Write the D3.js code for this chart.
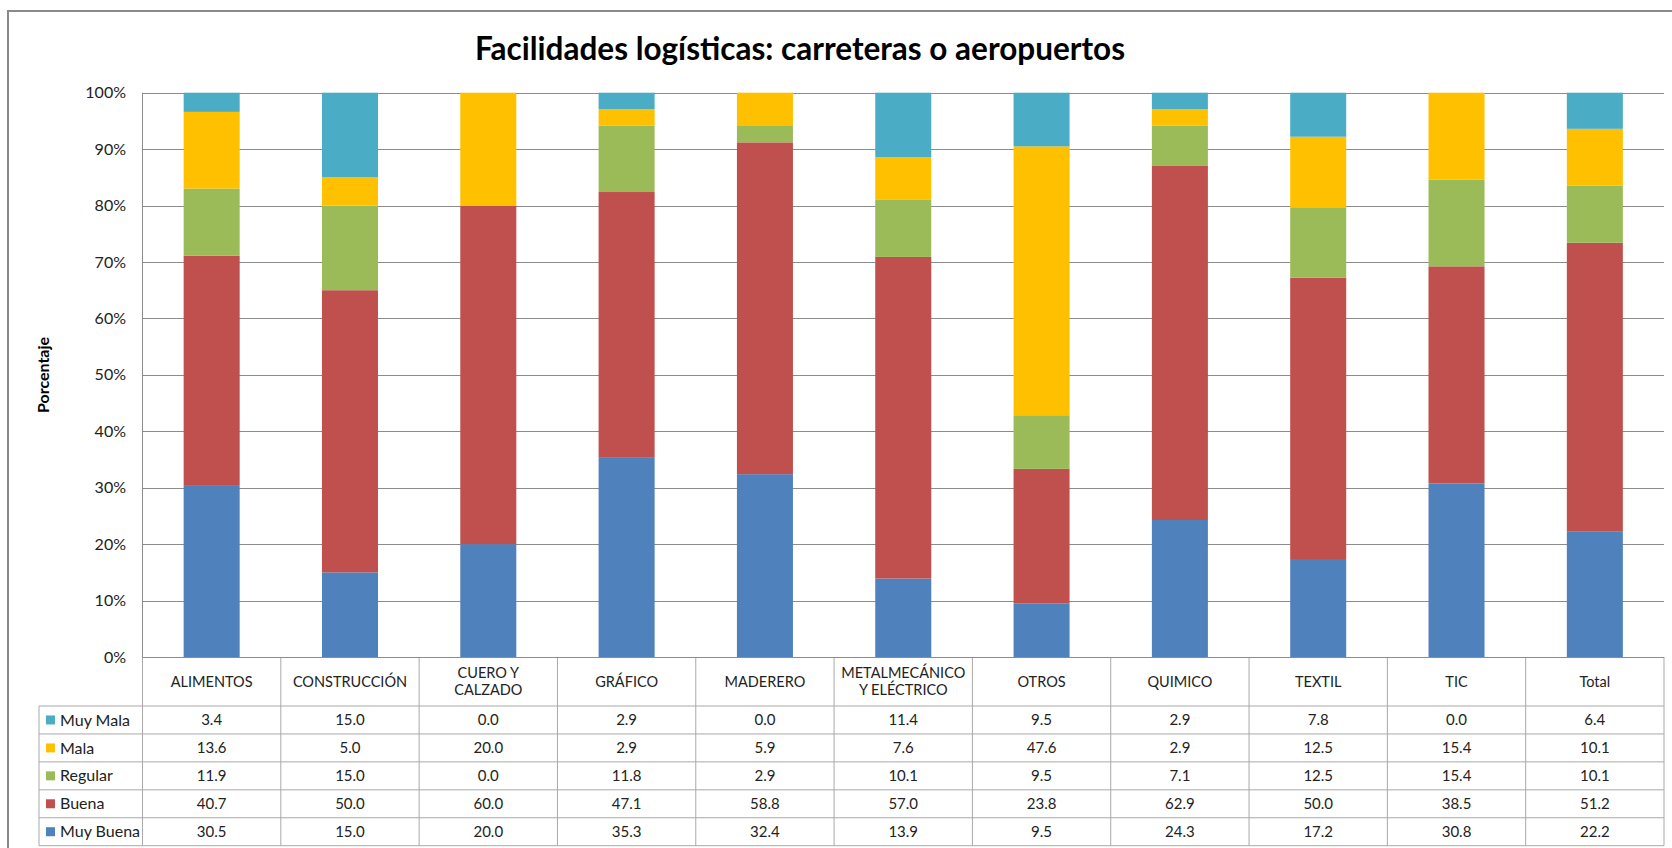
<!DOCTYPE html>
<html><head><meta charset="utf-8">
<script src="https://cdn.jsdelivr.net/npm/d3@7"></script>
<style>body{margin:0;background:#fff}svg{display:block}text{font-family:Lato,"Open Sans",sans-serif}</style>
</head><body><svg id="c" width="1672" height="848"></svg>
<script>
const categories = [["ALIMENTOS"],["CONSTRUCCIÓN"],["CUERO Y","CALZADO"],["GRÁFICO"],["MADERERO"],["METALMECÁNICO","Y ELÉCTRICO"],["OTROS"],["QUIMICO"],["TEXTIL"],["TIC"],["Total"]];
const seriesNames = ["Muy Buena","Buena","Regular","Mala","Muy Mala"];
const muyBuena = [30.5,15.0,20.0,35.3,32.4,13.9,9.5,24.3,17.2,30.8,22.2];
const buena    = [40.7,50.0,60.0,47.1,58.8,57.0,23.8,62.9,50.0,38.5,51.2];
const regular  = [11.9,15.0,0.0,11.8,2.9,10.1,9.5,7.1,12.5,15.4,10.1];
const mala     = [13.6,5.0,20.0,2.9,5.9,7.6,47.6,2.9,12.5,15.4,10.1];
const muyMala  = [3.4,15.0,0.0,2.9,0.0,11.4,9.5,2.9,7.8,0.0,6.4];
const colors = ["#4F81BD","#C0504D","#9BBB59","#FFC000","#4BACC6"];
const yTicks = [0,0.1,0.2,0.3,0.4,0.5,0.6,0.7,0.8,0.9,1.0];
const title = "Facilidades logísticas: carreteras o aeropuertos";
const yTitle = "Porcentaje";

const seriesVals = [muyBuena,buena,regular,mala,muyMala];
const svg = d3.select("#c");
const L=142.5, R=1664, T=92.7, B=657;
const tableTop=706, rowH=27.94, legL=39;
const gridC="#8c8c8c", tblC="#a9a9a9";

const keys = categories.map((c,i)=>"c"+i);
const x = d3.scaleBand().domain(keys).range([L,R]).padding(0);
const y = d3.scaleLinear().domain([0,1]).range([B,T]);
const bw = x.bandwidth()*0.405;

// outer border
svg.append("rect").attr("x",8).attr("y",11).attr("width",1800).attr("height",1000)
  .attr("fill","none").attr("stroke","#8a8a8a").attr("stroke-width",2);

// title
svg.append("text").attr("x",800).attr("y",60).attr("text-anchor","middle")
  .attr("font-size",31.5).attr("font-weight","bold").attr("fill","#000").text(title);

// gridlines
svg.append("g").selectAll("line").data(yTicks).join("line")
  .attr("x1",L).attr("x2",R).attr("y1",d=>Math.round(y(d))+0.5).attr("y2",d=>Math.round(y(d))+0.5)
  .attr("stroke",gridC).attr("stroke-width",1);
// y axis line
svg.append("line").attr("x1",L).attr("x2",L).attr("y1",T).attr("y2",B).attr("stroke",gridC);

// y tick labels
svg.append("g").selectAll("text").data(yTicks).join("text")
  .attr("x",126).attr("y",d=>y(d)).attr("dy","0.35em").attr("text-anchor","end")
  .attr("font-size",16).attr("fill","#222").text(d=>Math.round(d*100)+"%");

// y title
svg.append("text").attr("transform","translate(49,375) rotate(-90)").attr("text-anchor","middle")
  .attr("font-size",16).attr("font-weight","bold").attr("fill","#000").text(yTitle);

// stacked normalized
const rows = keys.map((k,i)=>{const o={key:k}; seriesNames.forEach((s,j)=>o[s]=seriesVals[j][i]); return o;});
const stack = d3.stack().keys(seriesNames).offset(d3.stackOffsetExpand);
const st = stack(rows);
svg.append("g").selectAll("g").data(st).join("g").attr("fill",(d,i)=>colors[i])
  .selectAll("rect").data(d=>d).join("rect")
  .attr("x",d=>x(d.data.key)+(x.bandwidth()-bw)/2).attr("width",bw)
  .attr("y",d=>y(d[1])).attr("height",d=>Math.max(0,y(d[0])-y(d[1])));

// table lines
const tg = svg.append("g");
const tableBottom = tableTop+rowH*5;
keys.forEach(k=>{
  tg.append("line").attr("x1",x(k)).attr("x2",x(k)).attr("y1",B).attr("y2",tableBottom).attr("stroke",tblC);
});
tg.append("line").attr("x1",R).attr("x2",R).attr("y1",B).attr("y2",tableBottom).attr("stroke",tblC);
tg.append("line").attr("x1",legL).attr("x2",legL).attr("y1",tableTop).attr("y2",tableBottom).attr("stroke",tblC);
for(let r=0;r<=5;r++){
  tg.append("line").attr("x1",legL).attr("x2",R).attr("y1",tableTop+r*rowH).attr("y2",tableTop+r*rowH).attr("stroke",tblC);
}
// bottom axis line above header
svg.append("line").attr("x1",L).attr("x2",R).attr("y1",B+0.5).attr("y2",B+0.5).attr("stroke",gridC);

// header labels
const hc = (B+tableTop)/2;
categories.forEach((c,i)=>{
  const t = svg.append("text").attr("text-anchor","middle").attr("font-size",14.5).attr("fill","#222");
  const cx = x(keys[i])+x.bandwidth()/2;
  c.forEach((ln,j)=>{
    const off = (j-(c.length-1)/2)*17;
    t.append("tspan").attr("x",cx).attr("y",hc+off).attr("dy","0.35em").text(ln);
  });
});

// table rows: top to bottom Muy Mala..Muy Buena
const order = [4,3,2,1,0];
order.forEach((si,r)=>{
  const cy = tableTop+r*rowH+rowH/2;
  svg.append("rect").attr("x",46).attr("y",cy-4.5).attr("width",9).attr("height",9).attr("fill",colors[si]);
  svg.append("text").attr("x",60).attr("y",cy).attr("dy","0.35em").attr("font-size",16).attr("fill","#222").text(seriesNames[si]);
  svg.append("g").selectAll("text").data(seriesVals[si]).join("text")
    .attr("x",(d,i)=>x(keys[i])+x.bandwidth()/2).attr("y",cy).attr("dy","0.35em")
    .attr("text-anchor","middle").attr("font-size",15).attr("fill","#222").text(d=>d.toFixed(1));
});
</script></body></html>
